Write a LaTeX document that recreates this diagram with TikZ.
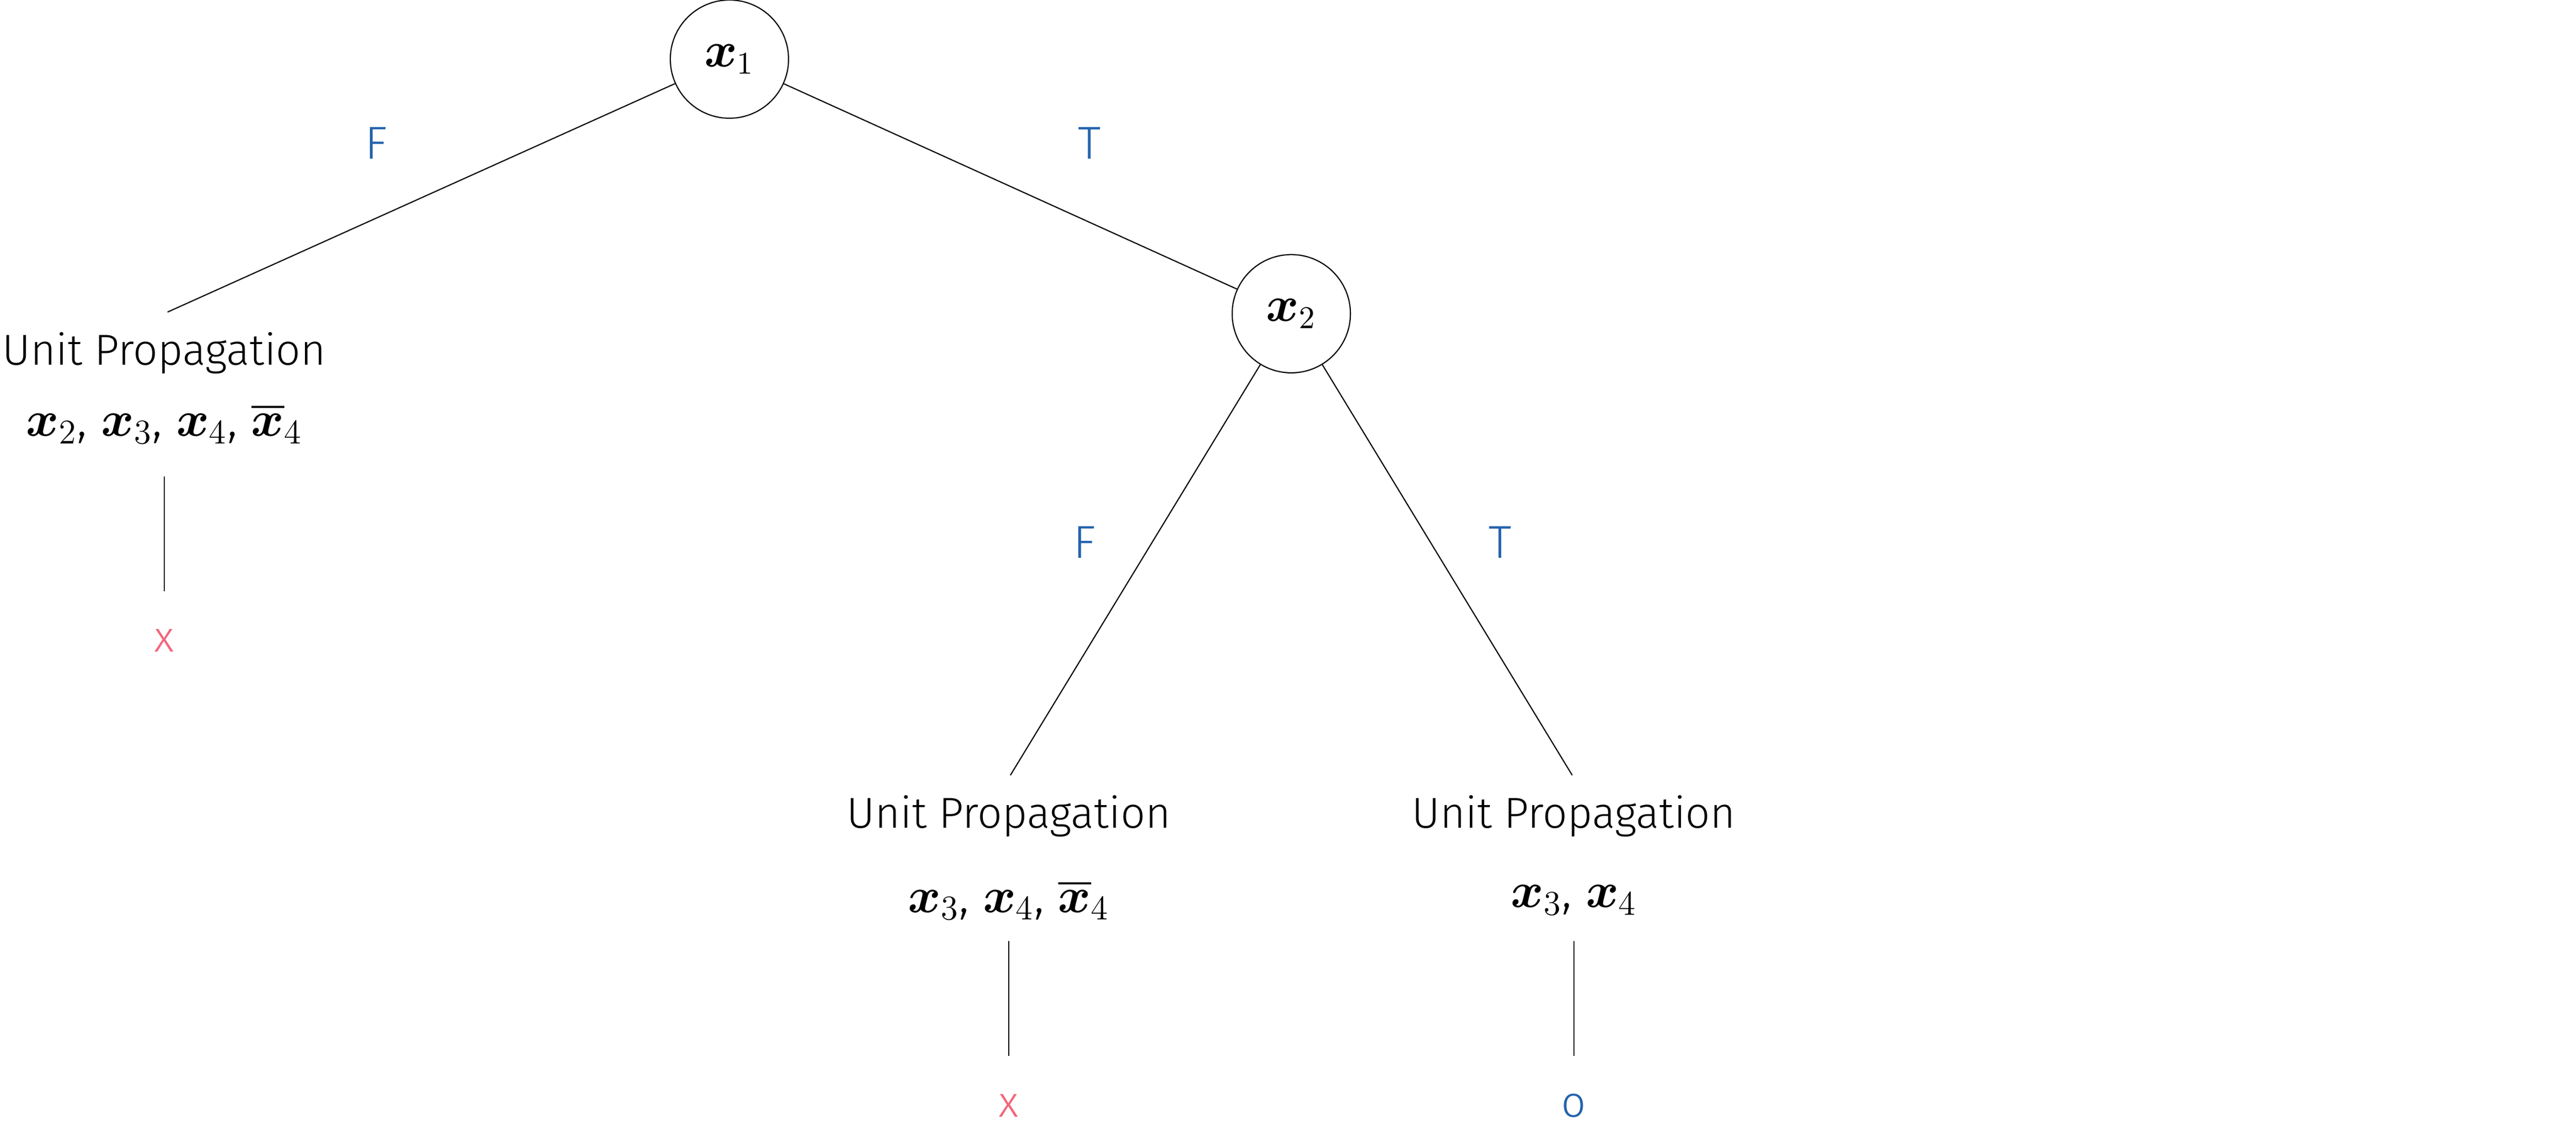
\documentclass[tikz,border=0pt]{standalone}
\usepackage{amsmath}
\usepackage{amssymb}
\usepackage{fontspec}
\setmainfont{Fira Sans}[UprightFont=* Light]
\usetikzlibrary{positioning}
\definecolor{labelblue}{rgb}{0.14, 0.39, 0.68}
\definecolor{failpink}{rgb}{0.95, 0.40, 0.48}
\tikzset{
  varnode/.style={draw, circle, minimum size=1.44cm, inner sep=0pt, font=\fontsize{16}{19}\selectfont},
  txt/.style={inner sep=0pt, font=\fontsize{15}{18}\selectfont},
  edgelabel/.style={inner sep=0pt, text=labelblue, font=\fontsize{16}{19}\selectfont}
}
\begin{document}
\begin{tikzpicture}[x=0.02cm, y=-0.02cm]
        \useasboundingbox (0,0) rectangle (1568,686);

        \node[varnode] (X1) at (444,36) {$\boldsymbol{x}_1$};
        \node[varnode] (X2) at (786,191) {$\boldsymbol{x}_2$};

        % left branch
        \node[txt] (UP1) at (100,215) {Unit Propagation};
        \node[txt, font=\fontsize{17}{20}\selectfont] (V1) at (100,258) {$\boldsymbol{x}_2$, $\boldsymbol{x}_3$, $\boldsymbol{x}_4$, $\overline{\boldsymbol{x}}_4$};
        \coordinate (L1a) at (102,190);
        \coordinate (L1b) at (100,290);
        \coordinate (L1c) at (100,360);
        \node[txt, text=failpink] (R1) at (100,390) {x};

        % middle branch
        \node[txt] (UP2) at (614,497) {Unit Propagation};
        \node[txt, font=\fontsize{17}{20}\selectfont] (V2) at (614,548) {$\boldsymbol{x}_3$, $\boldsymbol{x}_4$, $\overline{\boldsymbol{x}}_4$};
        \coordinate (L2a) at (615,472);
        \coordinate (L2b) at (614,573);
        \coordinate (L2c) at (614,643);
        \node[txt, text=failpink] (R2) at (614,673) {x};

        % right branch
        \node[txt] (UP3) at (958,497) {Unit Propagation};
        \node[txt, font=\fontsize{17}{20}\selectfont] (V3) at (958,548) {$\boldsymbol{x}_3$, $\boldsymbol{x}_4$};
        \coordinate (L3a) at (957,472);
        \coordinate (L3b) at (958,573);
        \coordinate (L3c) at (958,643);
        \node[txt, text=labelblue] (R3) at (958,673) {o};

        \node[edgelabel] (F1) at (229,87) {F};
        \node[edgelabel] (T1) at (663,87) {T};
        \node[edgelabel] (F2) at (660,330) {F};
        \node[edgelabel] (T2) at (913,330) {T};

        \draw (X1) -- (L1a);
        \draw (X1) -- (X2);
        \draw (X2) -- (L2a);
        \draw (X2) -- (L3a);
        \draw (L1b) -- (L1c);
        \draw (L2b) -- (L2c);
        \draw (L3b) -- (L3c);
\end{tikzpicture}
\end{document}
